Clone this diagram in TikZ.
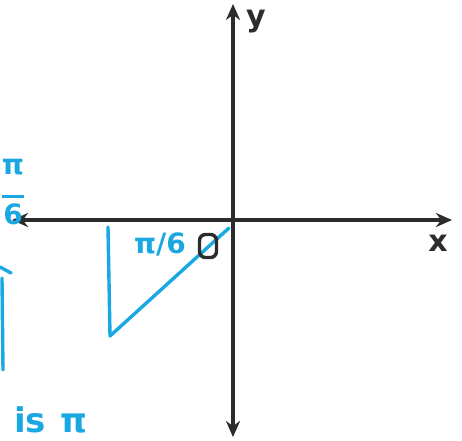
\documentclass[tikz,border=0pt]{standalone}
\usepackage{fontspec}
\usetikzlibrary{arrows.meta}
\newfontfamily\handfont{DejaVu Sans}
\definecolor{axisc}{HTML}{2A2C2E}
\definecolor{penblue}{HTML}{1AA8E2}
\tikzset{
  axis/.style={draw=axisc, line width=4.2pt, -{Stealth[length=16pt,width=14pt]}},
  pen/.style={draw=penblue, line width=3.4pt, line cap=round, line join=round},
  penlabel/.style={text=penblue, font=\handfont\bfseries\fontsize{28}{28}\selectfont, inner sep=0pt},
  axlabel/.style={text=axisc, font=\handfont\bfseries\fontsize{30}{30}\selectfont, inner sep=0pt}
}
\begin{document}
\begin{tikzpicture}[x=1pt,y=-1pt]
\useasboundingbox (0,0) rectangle (462,440);
\clip (0,0) rectangle (462,440);
\fill[white] (0,0) rectangle (462,440);
% axes
\coordinate (origin) at (233,220);
\coordinate (xl) at (12,220);
\coordinate (xr) at (452,220);
\coordinate (yt) at (233,4);
\coordinate (yb) at (233,437);
\draw[axis] (origin) -- (xl);
\draw[axis] (origin) -- (xr);
\draw[axis] (origin) -- (yt);
\draw[axis] (origin) -- (yb);
\node[axlabel] (ylab) at (256,22) {y};
\node[axlabel] (xlab) at (438,243) {x};
% triangle
\coordinate (ta) at (108,227);
\coordinate (tb) at (110,336);
\coordinate (tc) at (229,228);
\draw[pen] (ta) -- (tb) -- (tc);
\node[penlabel] (ang) at (160,244) {π/6};
\node[draw=axisc, line width=3.4pt, rounded corners=6pt, minimum width=17pt, minimum height=23pt, inner sep=0pt] (O) at (208,246) {};
% left margin writing
\node[penlabel, align=center] (frac) at (13,192) {π\\[-4pt]\rule{22pt}{3pt}\\[-2pt]6};
\coordinate (la) at (0,267);
\coordinate (lb) at (11,273);
\coordinate (lc) at (2,278);
\coordinate (ld) at (3,370);
\draw[pen] (la) -- (lb);
\draw[pen] (lc) -- (ld);
\node[penlabel, anchor=base west, font=\handfont\bfseries\fontsize{34}{34}\selectfont] (is) at (14,432) {is\hspace{14pt}π};
\end{tikzpicture}
\end{document}
